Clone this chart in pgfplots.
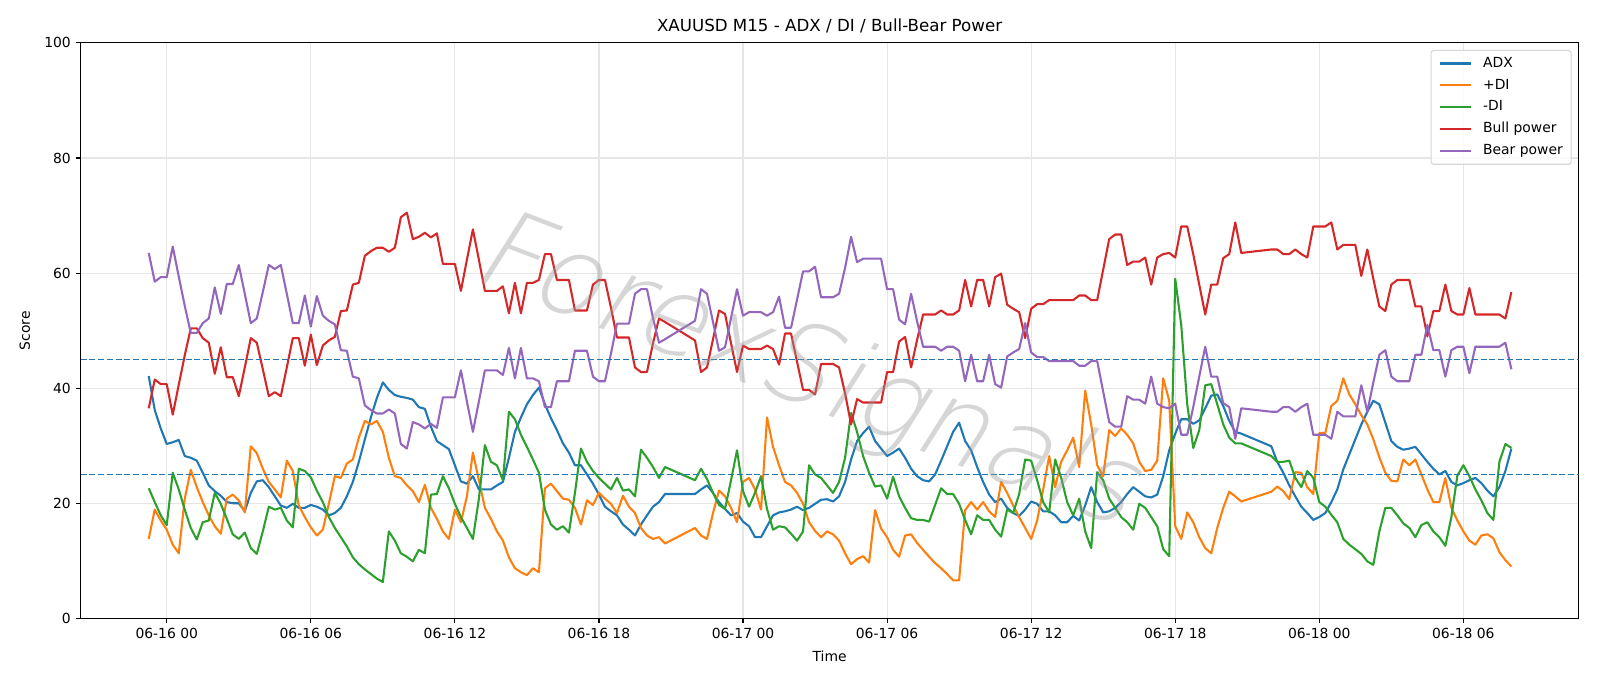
\documentclass[border=0pt]{standalone}
\usepackage{fontspec}
\setmainfont{DejaVu Sans}
\newfontfamily\wmfont[FakeSlant=0.2]{DejaVu Sans ExtraLight}
\usepackage{pgfplots}
\usepackage{pgfplotstable}
\pgfplotsset{compat=1.18}

\definecolor{tabblue}{HTML}{1F77B4}
\definecolor{taborange}{HTML}{FF7F0E}
\definecolor{tabgreen}{HTML}{2CA02C}
\definecolor{tabred}{HTML}{D62728}
\definecolor{tabpurple}{HTML}{9467BD}
\definecolor{gridgray}{HTML}{E6E6E6}
\definecolor{legendgray}{HTML}{D6D6D6}
\definecolor{wmgray}{gray}{0.6}

% t = hours since 06-16 00:00 (M15 bars)
\pgfplotstableread{
t adx pdi mdi bull bear
-0.75 42.1 13.8 22.6 36.5 63.5
-0.5 36.2 18.9 20.2 41.5 58.5
-0.25 33.0 17.0 17.9 40.7 59.3
0 30.3 15.4 16.2 40.7 59.3
0.25 30.6 12.8 25.3 35.4 64.6
0.5 31.0 11.3 22.4 40.6 59.4
0.75 28.2 20.8 18.9 45.7 54.3
1.0 27.9 25.8 15.7 50.4 49.6
1.25 27.4 22.8 13.7 50.4 49.6
1.5 25.3 20.2 16.7 48.7 51.3
1.75 23.1 17.9 17.0 47.9 52.1
2.0 22.1 16.0 21.8 42.5 57.5
2.25 21.3 14.7 19.9 47.1 52.9
2.5 20.2 20.8 17.3 41.9 58.1
2.75 20.0 21.5 14.6 41.9 58.1
3.0 20.0 20.5 13.8 38.6 61.4
3.25 18.6 18.4 14.9 43.6 56.4
3.5 21.8 29.9 12.2 48.7 51.3
3.75 23.8 28.7 11.2 47.9 52.1
4.0 24.0 26.0 15.1 43.3 56.7
4.25 22.8 23.7 19.4 38.6 61.4
4.5 21.2 22.4 18.9 39.3 60.7
4.75 19.6 21.0 19.2 38.6 61.4
5.0 19.2 27.4 17.0 43.6 56.4
5.25 19.9 25.6 15.8 48.7 51.3
5.5 19.2 19.6 26.0 48.7 51.3
5.75 19.2 17.6 25.6 43.9 56.1
6.0 19.7 15.8 24.5 49.3 50.7
6.25 19.4 14.4 22.2 44.0 56.0
6.5 18.9 15.4 20.2 47.4 52.6
6.75 17.9 19.9 17.6 48.3 51.7
7.0 18.3 24.7 15.7 48.9 51.1
7.25 19.2 24.4 14.1 53.4 46.6
7.5 21.2 26.9 12.5 53.5 46.5
7.75 23.7 27.6 10.6 58.0 42.0
8.0 27.2 31.4 9.4 58.3 41.7
8.25 31.1 34.3 8.5 63.0 37.0
8.5 34.9 33.7 7.7 63.8 36.2
8.75 38.3 34.3 6.9 64.4 35.6
9.0 41.0 32.4 6.3 64.4 35.6
9.25 39.7 27.9 15.1 63.7 36.3
9.5 38.8 24.7 13.5 64.4 35.6
9.75 38.5 24.4 11.3 69.7 30.3
10.0 38.3 23.1 10.7 70.5 29.5
10.25 38.0 22.1 9.9 65.9 34.1
10.5 36.7 20.2 11.9 66.3 33.7
10.75 36.4 23.2 11.3 67.0 33.0
11.0 33.3 19.2 21.5 66.2 33.8
11.25 30.8 17.3 21.6 66.9 33.1
11.5 30.1 15.1 24.7 61.6 38.4
11.75 29.4 13.8 22.6 61.6 38.4
12.0 26.6 18.9 19.9 61.6 38.4
12.25 23.8 16.7 17.6 56.9 43.1
12.5 23.4 21.2 15.7 62.3 37.7
12.75 24.7 28.8 13.8 67.6 32.4
13.0 22.4 24.0 20.8 62.3 37.7
13.25 22.4 19.2 30.1 56.9 43.1
13.5 22.4 17.3 27.2 56.9 43.1
13.75 23.1 15.1 26.6 56.9 43.1
14.0 23.7 13.5 24.0 57.7 42.3
14.25 27.9 10.6 35.9 53.0 47.0
14.5 32.4 8.7 34.6 58.3 41.7
14.75 34.9 8.0 31.9 53.0 47.0
15.0 37.2 7.5 29.8 58.3 41.7
15.25 38.8 8.7 27.6 58.3 41.7
15.5 40.1 8.0 25.3 58.8 41.2
15.75 37.2 22.6 18.9 63.3 36.7
16.0 34.8 23.4 16.3 63.3 36.7
16.25 32.7 22.1 15.4 58.8 41.2
16.5 30.4 20.8 16.0 58.8 41.2
16.75 28.8 20.6 14.9 58.8 41.2
17.0 26.6 19.2 21.8 53.5 46.5
17.25 26.6 16.3 29.5 53.5 46.5
17.5 25.0 20.5 27.2 53.5 46.5
17.75 23.4 19.7 25.6 58.0 42.0
18.0 21.5 21.8 24.4 58.8 41.2
18.25 19.4 20.8 23.4 58.8 41.2
18.5 18.6 19.9 22.4 54.0 46.0
18.75 17.9 18.3 24.4 48.8 51.2
19.0 16.3 21.3 22.2 48.8 51.2
19.25 15.4 19.4 22.4 48.8 51.2
19.5 14.4 18.3 21.2 43.6 56.4
19.75 16.3 15.7 29.3 42.8 57.2
20.0 17.9 14.4 27.9 42.8 57.2
20.25 19.4 13.8 26.3 47.8 52.2
20.5 20.2 14.1 24.4 52.1 47.9
20.75 21.6 13.0 26.3 51.5 48.5
22.0 21.6 15.7 24.0 48.3 51.7
22.25 22.4 14.4 26.0 42.8 57.2
22.5 23.1 13.8 24.2 43.6 56.4
22.75 21.8 18.3 21.8 48.5 51.5
23.0 20.2 22.2 19.7 53.5 46.5
23.25 19.0 21.2 19.0 52.9 47.1
23.5 17.9 19.2 24.0 47.8 52.2
23.75 18.3 16.7 29.2 42.8 57.2
24.0 16.8 23.7 22.1 47.4 52.6
24.25 16.0 24.4 19.4 46.8 53.2
24.5 14.1 22.4 21.8 46.8 53.2
24.75 14.1 18.9 24.7 46.8 53.2
25.0 16.0 34.9 19.0 47.4 52.6
25.25 17.9 29.8 15.4 46.8 53.2
25.5 18.4 26.6 16.0 44.1 55.9
25.75 18.6 23.7 15.8 49.5 50.5
26.0 18.9 23.1 14.7 49.5 50.5
26.25 19.4 21.8 13.5 44.6 55.4
26.5 18.8 19.9 15.1 39.7 60.3
26.75 19.2 16.7 26.6 39.7 60.3
27.0 19.9 15.2 25.0 38.9 61.1
27.25 20.6 14.1 24.4 44.2 55.8
27.5 20.7 15.1 23.1 44.2 55.8
27.75 20.3 14.6 21.8 44.2 55.8
28.0 21.2 13.5 23.7 43.6 56.4
28.25 23.7 11.3 27.9 39.1 60.9
28.5 27.6 9.4 35.7 33.7 66.3
28.75 30.8 10.3 32.4 38.1 61.9
29.0 32.2 10.8 28.2 37.5 62.5
29.25 33.3 9.7 25.3 37.5 62.5
29.5 30.8 18.8 22.9 37.5 62.5
29.75 29.5 15.6 23.1 37.5 62.5
30.0 28.2 14.1 20.8 42.8 57.2
30.25 28.8 11.9 24.6 42.8 57.2
30.5 29.5 10.7 21.2 48.1 51.9
30.75 27.9 14.4 19.2 48.9 51.1
31.0 26.0 14.6 17.4 43.6 56.4
31.25 24.7 13.1 17.1 48.4 51.6
31.5 24.0 11.9 17.1 52.8 47.2
31.75 23.8 10.7 16.8 52.8 47.2
32.0 25.0 9.6 19.7 52.8 47.2
32.25 27.4 8.7 22.6 53.5 46.5
32.5 29.9 7.7 21.6 52.8 47.2
32.75 32.4 6.6 21.6 52.8 47.2
33.0 34.0 6.6 19.9 53.5 46.5
33.25 30.8 18.8 17.1 58.8 41.2
33.5 29.2 20.2 14.6 54.2 45.8
33.75 26.3 18.9 17.9 58.8 41.2
34.0 23.7 20.2 17.1 58.8 41.2
34.25 21.5 18.6 17.1 54.2 45.8
34.5 20.2 17.6 15.4 59.3 40.7
34.75 20.8 23.7 14.2 59.9 40.1
35.0 19.2 21.8 18.9 54.5 45.5
35.25 18.3 19.6 18.3 53.8 46.2
35.5 17.8 17.6 21.6 53.2 46.8
35.75 18.9 15.7 27.6 48.7 51.3
36.0 20.3 13.8 27.4 53.8 46.2
36.25 19.9 17.0 24.0 54.6 45.4
36.5 18.6 22.4 20.2 54.6 45.4
36.75 18.6 28.2 18.4 55.3 44.7
37.0 17.9 22.8 27.6 55.3 44.7
37.25 16.7 27.2 24.4 55.3 44.7
37.5 16.7 29.2 20.2 55.3 44.7
37.75 17.8 31.4 17.9 55.3 44.7
38.0 17.0 26.3 20.8 56.1 43.9
38.25 19.6 39.6 15.1 56.1 43.9
38.5 22.8 33.7 12.2 55.3 44.7
38.75 20.2 26.6 25.4 55.3 44.7
39.0 18.4 24.7 24.0 60.6 39.4
39.25 18.6 32.7 20.8 65.9 34.1
39.5 19.2 31.7 19.2 66.7 33.3
39.75 20.2 33.0 17.6 66.7 33.3
40.0 21.6 31.9 16.7 61.4 38.6
40.25 22.8 30.4 15.4 62.0 38.0
40.5 22.0 27.2 19.9 62.0 38.0
40.75 21.2 25.6 19.2 62.7 37.3
41.0 21.0 25.8 17.6 58.0 42.0
41.25 21.5 27.4 16.0 62.7 37.3
41.5 24.7 41.7 12.0 63.3 36.7
41.75 29.2 37.8 10.8 63.5 36.5
42.0 32.1 16.0 59.0 62.7 37.3
42.25 34.6 13.8 51.0 68.1 31.9
42.5 34.6 18.4 37.2 68.1 31.9
42.75 33.8 16.7 29.6 63.3 36.7
43.0 34.4 14.1 32.7 58.0 42.0
43.25 36.5 12.2 40.5 52.8 47.2
43.5 38.7 11.3 40.7 58.0 42.0
43.75 38.9 15.7 37.2 58.0 42.0
44.0 36.9 19.2 33.7 62.6 37.4
44.25 34.3 22.0 31.4 63.3 36.7
44.5 32.4 21.2 30.4 68.8 31.2
44.75 32.1 20.3 30.4 63.5 36.5
46.0 29.9 22.0 28.2 64.1 35.9
46.25 27.2 22.9 27.2 64.1 35.9
46.5 25.3 22.1 27.2 63.3 36.7
46.75 23.1 20.7 27.4 63.3 36.7
47.0 21.2 25.4 24.4 64.1 35.9
47.25 19.4 25.3 22.8 63.3 36.7
47.5 18.3 22.8 25.6 62.7 37.3
47.75 17.1 21.6 24.4 68.1 31.9
48.0 17.6 32.2 20.2 68.1 31.9
48.25 18.3 32.2 19.4 68.1 31.9
48.5 20.2 36.9 18.0 68.8 31.2
48.75 22.4 37.8 16.7 64.1 35.9
49.0 25.9 41.7 13.8 64.9 35.1
49.25 28.5 38.9 12.8 64.9 35.1
49.5 31.1 37.2 12.0 64.9 35.1
49.75 33.7 35.3 11.2 59.5 40.5
50.0 35.9 33.7 9.9 64.1 35.9
50.25 37.8 31.1 9.3 59.0 41.0
50.5 37.2 28.0 15.1 54.2 45.8
50.75 34.0 25.3 19.2 53.4 46.6
51.0 30.8 23.9 19.2 58.0 42.0
51.25 29.8 23.8 17.9 58.8 41.2
51.5 29.3 27.6 16.5 58.8 41.2
51.75 29.5 26.6 15.7 58.8 41.2
52.0 29.8 27.6 14.1 54.2 45.8
52.25 28.5 25.0 16.2 54.2 45.8
52.5 27.2 22.4 16.7 49.0 51.0
52.75 26.0 20.2 15.1 53.4 46.6
53.0 25.0 20.2 14.1 53.4 46.6
53.25 25.6 24.4 12.6 58.0 42.0
53.5 23.7 19.2 17.6 53.4 46.6
53.75 23.1 17.0 24.8 52.8 47.2
54.0 23.5 15.1 26.6 52.8 47.2
54.25 24.0 13.5 24.7 57.4 42.6
54.5 24.4 12.8 22.4 52.8 47.2
54.75 23.5 14.4 20.5 52.8 47.2
55.0 22.2 14.6 18.3 52.8 47.2
55.25 21.2 13.9 17.1 52.8 47.2
55.5 22.8 11.5 27.2 52.8 47.2
55.75 25.6 10.1 30.3 52.1 47.9
56.0 29.5 9.0 29.6 56.7 43.3
}\data

\begin{document}
\begin{tikzpicture}
\begin{axis}[
  scale only axis,
  width=1078.6pt, height=414.3pt,
  xmin=-3.59, xmax=58.8, ymin=0, ymax=100,
  xtick={0,6,...,54},
  xticklabels={06-16 00,06-16 06,06-16 12,06-16 18,06-17 00,06-17 06,06-17 12,06-17 18,06-18 00,06-18 06},
  ytick={0,20,...,100},
  /pgf/number format/assume math mode=true,
  tick align=outside, tick pos=left,
  major tick length=3.5pt,
  every tick/.style={black, line width=0.8pt},
  axis line style={line width=0.8pt},
  grid=major,
  major grid style={gridgray, line width=0.8pt},
  tick label style={font=\fontsize{10}{12}\selectfont},
  title={XAUUSD M15 - ADX / DI / Bull-Bear Power},
  title style={at={(0.5,1)}, anchor=base, yshift=2.5pt, font=\fontsize{12}{14}\selectfont},
  xlabel={Time},
  xlabel style={at={(axis description cs:0.5,0)}, anchor=base, yshift=-30.8pt, font=\fontsize{10}{12}\selectfont},
  ylabel={Score},
  ylabel style={at={(axis description cs:-0.03375,0.5)}, anchor=base, font=\fontsize{10}{12}\selectfont},
  legend cell align=left,
  legend image code/.code={\draw[#1, line width=1.5pt] (0pt,0pt) -- (22pt,0pt);},
  legend style={at={(1,1)}, anchor=north east, xshift=-5pt, yshift=-5pt,
    draw=legendgray, line width=0.8pt, rounded corners=2pt,
    fill=white, fill opacity=0.8, text opacity=1, draw opacity=1,
    font=\fontsize{10}{12}\selectfont,
    inner xsep=6pt, inner ysep=4.4pt, row sep=5.8pt, column sep=8pt,
    nodes={inner sep=0pt, text height=7.6pt, text depth=2.4pt}},
  every axis plot/.append style={line width=1.5pt, line join=round},
]
\addplot[tabblue]   table[x=t, y=adx]  {\data}; \addlegendentry{ADX}
\addplot[taborange] table[x=t, y=pdi]  {\data}; \addlegendentry{+DI}
\addplot[tabgreen]  table[x=t, y=mdi]  {\data}; \addlegendentry{-DI}
\addplot[tabred]    table[x=t, y=bull] {\data}; \addlegendentry{Bull power}
\addplot[tabpurple] table[x=t, y=bear] {\data}; \addlegendentry{Bear power}

% reference levels
\addplot[tabblue, line width=1pt, dash pattern=on 4.4pt off 1.9pt, forget plot] coordinates {(-3.59,45) (58.8,45)};
\addplot[tabblue, line width=1pt, dash pattern=on 4.4pt off 1.9pt, forget plot] coordinates {(-3.59,25) (58.8,25)};

% watermark
\node[rotate=-21, text=wmgray, text opacity=0.4, font=\wmfont\fontsize{80}{80}\selectfont]
  at (axis cs:26.6,42.5) {ForexSignals};
\end{axis}
\pgfresetboundingbox
\path[use as bounding box] ([shift={(-58.0pt,-48.8pt)}]current axis.south west)
  rectangle ([shift={(15.4pt,30.9pt)}]current axis.north east);
\end{tikzpicture}
\end{document}
